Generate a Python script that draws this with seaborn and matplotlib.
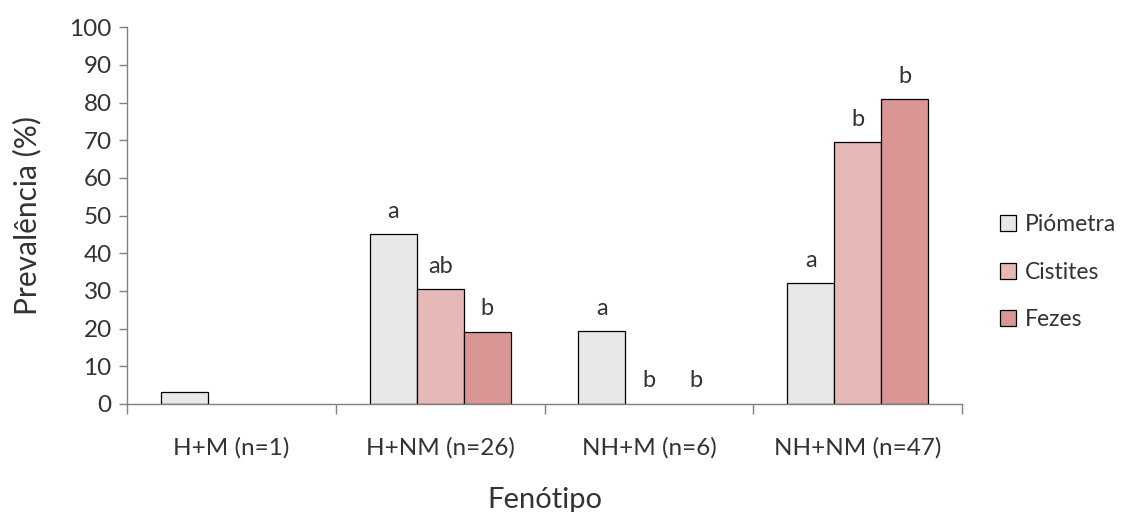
import numpy as np
import matplotlib.pyplot as plt
import pandas as pd
import seaborn as sns
from matplotlib.ticker import FixedLocator

fenotipos = ['H+M (n=1)', 'H+NM (n=26)', 'NH+M (n=6)', 'NH+NM (n=47)']
series = ['Piómetra', 'Cistites', 'Fezes']
piometra = [3.2, 45.0, 19.3, 32.0]
cistites = [0.0, 30.4, 0.0, 69.5]
fezes = [0.0, 19.1, 0.0, 80.8]
letras = {
    'Piómetra': ['', 'a', 'a', 'a'],
    'Cistites': ['', 'ab', 'b', 'b'],
    'Fezes': ['', 'b', 'b', 'b'],
}
cores = ['#E8E8E8', '#E6B8B7', '#D99694']

df = pd.DataFrame({
    'Fenótipo': fenotipos * 3,
    'Série': np.repeat(series, len(fenotipos)),
    'Prevalência': piometra + cistites + fezes,
})

sns.set_style('white')
plt.rcParams['font.family'] = ['Lato', 'DejaVu Sans']
txt = '#333333'
grey = '#808080'

fig = plt.figure(figsize=(11.26, 5.12), dpi=100)
ax = fig.add_axes([0.1128, 0.211, 0.7416, 0.736])

sns.barplot(data=df, x='Fenótipo', y='Prevalência', hue='Série',
            palette=cores, width=0.675, edgecolor='black', linewidth=0.9,
            saturation=1, ax=ax)

# letters above bars; hide outlines of empty bars
for cont, s in zip(ax.containers, series):
    for bar, lab in zip(cont, letras[s]):
        if bar.get_height() == 0:
            bar.set_linewidth(0)
        if lab:
            ax.annotate(lab, (bar.get_x() + bar.get_width() / 2, bar.get_height()),
                        xytext=(0, 9), textcoords='offset points',
                        ha='center', va='bottom', fontsize=17, color=txt)

ax.set_xlim(-0.5, 3.5)
ax.set_ylim(0, 100)
ax.set_yticks(range(0, 101, 10))
ax.tick_params(axis='y', labelsize=17.5, colors=grey, labelcolor=txt,
               length=6, width=1, direction='out', left=True, pad=5)
ax.tick_params(axis='x', which='major', length=0, pad=24, labelsize=17.5, labelcolor=txt)
ax.xaxis.set_minor_locator(FixedLocator([-0.5, 0.5, 1.5, 2.5, 3.5]))
ax.tick_params(axis='x', which='minor', length=7, width=1, color=grey,
               direction='out', bottom=True)

for side in ['top', 'right']:
    ax.spines[side].set_visible(False)
for side in ['left', 'bottom']:
    ax.spines[side].set_color(grey)
    ax.spines[side].set_linewidth(1)

ax.set_xlabel('Fenótipo', fontsize=21, color=txt, labelpad=20)
ax.set_ylabel('Prevalência (%)', fontsize=21.5, color=txt, labelpad=20)

leg = ax.legend(loc='center left', bbox_to_anchor=(1.035, 0.35), frameon=False,
                fontsize=16.5, handlelength=0.7, handleheight=0.7,
                labelspacing=1.15, handletextpad=0.35, labelcolor=txt,
                borderaxespad=0)

fig.savefig('out.png', dpi=100)
